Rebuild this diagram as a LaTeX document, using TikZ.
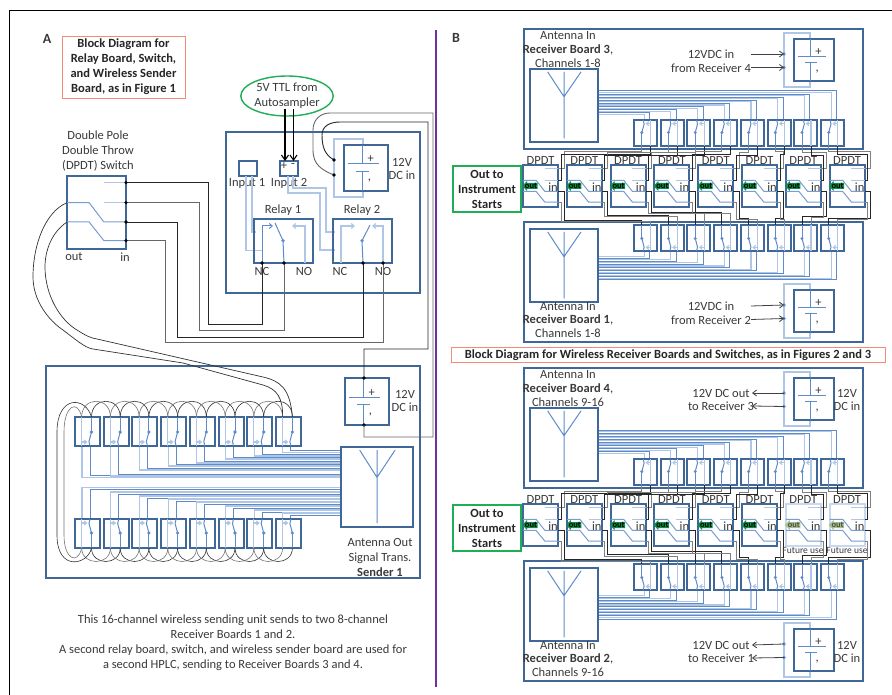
\documentclass[tikz,border=0pt]{standalone}
\usepackage{fontspec}
\setmainfont{Carlito}
\usetikzlibrary{arrows.meta,shapes.geometric}
\definecolor{bd}{HTML}{3F6797}
\definecolor{wl}{HTML}{AFC6E6}
\definecolor{wm}{HTML}{5F8CC8}
\definecolor{tx}{HTML}{3A3A3A}
\definecolor{grn}{HTML}{1FAE55}
\definecolor{redb}{HTML}{F48A78}
\definecolor{purp}{HTML}{7030A0}
\definecolor{outg}{HTML}{0E8F45}
\definecolor{paleg}{HTML}{A9BF8C}
\definecolor{paleb}{HTML}{C9D8EE}
\tikzset{
  bdbox/.style={draw=bd,line width=2pt,fill=white,inner sep=0pt,outer sep=0pt},
  palebox/.style={draw=paleb,line width=2pt,fill=white,inner sep=0pt,outer sep=0pt},
  lab/.style={font=\fontsize{12.5}{15}\selectfont,text=tx,inner sep=0pt,align=center},
  caplab/.style={lab,font=\fontsize{12.5}{13.6}\selectfont},
  boldlab/.style={lab,font=\fontsize{12.5}{15}\selectfont\bfseries,text=black!85},
  tiny/.style={lab,font=\fontsize{9.5}{10}\selectfont},
  wirel/.style={draw=wl,line width=1.1pt},
  wirem/.style={draw=wm,line width=1pt},
  wirex/.style={draw=wm!70!wl,line width=1pt},
  wireb/.style={draw=black!85,line width=.9pt},
  wireg/.style={draw=black!50,line width=1pt},
  loopb/.style={draw=black!80,line width=.6pt},
  loopg/.style={draw=black!55,line width=.6pt},
  dotk/.style={fill=black},
  dotb/.style={fill=wm},
  thin arrow/.style={draw=black!75,line width=.8pt,-{Straight Barb[length=4pt,width=6pt]}},
}
% switch box with pole, contact and arrow; drawn in a 25x29 cell
\newcommand{\swb}[7]{%
  \node[bdbox,minimum width=#4pt,minimum height=#5pt] (#1) at (#2,#3) {};
  \begin{scope}[shift={(#2,#3)},xscale=#6*#4/25,yscale=#7*#5/29]
    \draw[wirel] (-5.8,-14.5)--(-5.8,14.5);
    \draw[wirel,-{Straight Barb[length=2.5pt,width=4pt]}] (-5.8,10.5)--(0,10.5);
    \draw[wirem] (4,0.5)--(4,-14.5);
    \draw[wirem] (4,0.5)--(1.5,10)--(2.5,14.5);
    \fill[dotb] (4,0.5) circle (1.8);
    \coordinate (#1-p) at (4,-14.5);
    \coordinate (#1-q) at (-5.8,-14.5);
  \end{scope}}
% battery: name, centre x, centre y, w, h
\newcommand{\battery}[5]{%
  \node[bdbox,minimum width=#4pt,minimum height=#5pt] (#1) at (#2,#3) {};
  \begin{scope}[shift={(#1.north west)},x=#4pt,y=-#5pt]
    \draw[wirem] (.42,0)--(.42,.41) (.1,.41)--(.79,.41) (.27,.57)--(.57,.57) (.42,.57)--(.42,1);
    \node[lab] (#1-plus) at (.61,.31) {+};
    \node[lab] (#1-minus) at (.58,.77) {,};
  \end{scope}}
% antenna: name, centre x, centre y, w, h
\newcommand{\antenna}[5]{%
  \node[bdbox,minimum width=#4pt,minimum height=#5pt] (#1) at (#2,#3) {};
  \begin{scope}[shift={(#1.north west)},x=#4pt,y=-#5pt]
    \draw[wirem] (.26,.04)--(.5,.38)--(.75,.04) (.5,.04)--(.5,.95);
  \end{scope}}
% DPDT: name, left x, top y, w, h, box style
\newcommand{\dpdt}[6]{%
  \node[#6,minimum width=#4pt,minimum height=#5pt,anchor=north west] (#1) at (#2,#3) {};
  \begin{scope}[shift={(#2,#3)},x=#4pt,y=-#5pt]
    \draw[wirel,line width=1pt] (.62,.09)--(1,.09) (.62,.365)--(1,.365);
    \draw[wirex] (0,.365)--(.375,.365)--(.625,.63)--(1,.63);
    \draw[wirex] (0,.63)--(.375,.63)--(.625,.885)--(1,.885);
    \coordinate (#1-a) at (1,.09);
    \coordinate (#1-b) at (1,.365);
    \coordinate (#1-c) at (1,.63);
    \coordinate (#1-d) at (1,.885);
    \coordinate (#1-e) at (0,.365);
    \coordinate (#1-f) at (0,.63);
  \end{scope}}
% receiver board: prefix, base y, sign
\newcommand{\rboard}[3]{%
  \pgfmathsetmacro{\ay}{#2+#3*105.5}%
  \pgfmathsetmacro{\by}{#2+#3*60}%
  \begin{scope}[shift={(0,#2)},yscale=#3]
    \node[bdbox,minimum width=339pt,minimum height=120pt] (#1b) at (693.5,89) {};
    \foreach \i in {0,...,7}{
      \pgfmathsetmacro{\xx}{634+26.7*\i}
      \pgfmathsetmacro{\ya}{91+3.12*(7-\i)}
      \pgfmathsetmacro{\yb}{\ya+1.56}
      \draw[wirem] (\xx+15.7,120)--(\xx+15.7,\ya)--(598,\ya);
      \draw[wirel] (\xx+10.2,120)--(\xx+10.2,\yb)--(598,\yb);
      \swb{#1s\i}{\xx+11.5}{133}{23}{26}{-1}{-1}
    }
  \end{scope}
  \antenna{#1a}{564}{\ay}{68}{73}
  \pgfmathsetmacro{\rtop}{\by-27}%
  \pgfmathsetmacro{\rbot}{\by+27}%
  \draw[wirel] (784,\rtop) rectangle (810,\rbot);
  \battery{#1p}{814}{\by}{40}{42}
  \pgfmathsetmacro{\dya}{\by-6}%
  \pgfmathsetmacro{\dyb}{\by+7.5}%
  \coordinate (#1pa) at (784,\dya);
  \coordinate (#1pb) at (784,\dyb);
  \fill[dotb] (#1pa) circle (1.8) (#1pb) circle (1.8);
}
% row of 8 DPDT switches and wiring: top-board prefix, bottom-board prefix, row prefix, dy, pale from index
\newcommand{\dpdtrow}[5]{%
  \foreach \i/\hup/\hdn in {0/152/220,1/153/215,2/153/212,3/152/212,4/153/218,5/152/218,6/153/216,7/152/218}{
    \pgfmathsetmacro{\xx}{523+43.8*\i}
    \pgfmathsetmacro{\yy}{165+#4}
    \pgfmathsetmacro{\ty}{160+#4}
    \pgfmathsetmacro{\oy}{186+#4}
    \pgfmathsetmacro{\iny}{187+#4}
    \pgfmathsetmacro{\hta}{\hup+#4}
    \pgfmathsetmacro{\htb}{\hup+2+#4}
    \pgfmathsetmacro{\hba}{\hdn+#4}
    \pgfmathsetmacro{\hbb}{\hdn+2+#4}
    \pgfmathsetmacro{\xt}{\xx+17.5}
    \pgfmathsetmacro{\xo}{\xx+8}
    \pgfmathsetmacro{\xin}{\xx+30}
    \pgfmathtruncatemacro{\ispale}{\i>=#5}
    \ifnum\ispale=1
      \def\bxs{palebox}\def\arrc{paleg}\def\outc{black!70}
    \else
      \def\bxs{bdbox}\def\arrc{outg}\def\outc{black}
    \fi
    \dpdt{#3d\i}{\xx}{\yy}{35}{42}{\bxs}
    \node[lab] (#3t\i) at (\xt,\ty) {DPDT};
    \node[lab] (#3in\i) at (\xin,\iny) {in};
    \fill[\arrc] (\xx-1,\oy) -- ++(5,-5) -- ++(0,2) -- ++(10.5,0) -- ++(0,6) -- ++(-10.5,0) -- ++(0,2) -- cycle;
    \node[lab,font=\fontsize{8.5}{9}\selectfont\bfseries,text=\outc] (#3o\i) at (\xo,\oy) {out};
    \draw[wireg] (#3d\i-a) -- ++(6,0) |- (#1s\i-p |- 0,\hta) -- (#1s\i-p);
    \draw[wireb] (#3d\i-b) -- ++(3,0) |- (#1s\i-q |- 0,\htb) -- (#1s\i-q);
    \draw[wireb] (#3d\i-c) -- ++(6,0) |- (#2s\i-p |- 0,\hba) -- (#2s\i-p);
    \draw[wireg] (#3d\i-d) -- ++(3,0) |- (#2s\i-q |- 0,\hbb) -- (#2s\i-q);
  }}
\begin{document}
\begin{tikzpicture}[x=1pt,y=-1pt]
\useasboundingbox (0,0) rectangle (892,695);
\fill[white] (0,0) rectangle (892,695);
% outer frame and divider
\coordinate (fa) at (9,695); \coordinate (fb) at (9,10); \coordinate (fc) at (892,10);
\draw[black,line width=.9pt] (fa)--(fb)--(fc);
\coordinate (da) at (436,30); \coordinate (db) at (436,687);
\draw[purp,line width=1.4pt] (da)--(db);
\node[lab,font=\fontsize{14}{15}\selectfont\bfseries] (lA) at (47,39) {A};
\node[lab,font=\fontsize{14}{15}\selectfont\bfseries] (lB) at (456,38) {B};
\node[boldlab,draw=redb,line width=.9pt,minimum width=123pt,minimum height=62pt] (ttlA) at (123.5,67) {Block Diagram for\\Relay Board, Switch,\\and Wireless Sender\\Board, as in Figure 1};

% ---------- Panel A: relay board
\node[bdbox,minimum width=194pt,minimum height=161pt,anchor=north west] (relb) at (226,132) {};
\node[bdbox,minimum width=18pt,minimum height=15pt,anchor=north west] (in1) at (239,161) {};
\node[bdbox,minimum width=18pt,minimum height=15pt,anchor=north west] (in2) at (280,161) {};
\node[lab] (in2p) at (284,166) {+};
\node[lab] (in2m) at (293,165.5) {-};
\node[lab] (in1l) at (247,183) {Input 1};
\node[lab] (in2l) at (289,183) {Input 2};
% wires behind relays
\draw[wirel] (246,176)--(246,250.7)--(262,250.7);
\draw[wirel] (252,176)--(252,232)--(256,232);
\draw[wirel] (288,176)--(288,193)--(320,193)--(320,250)--(335,250);
\draw[wirel] (293,176)--(293,188)--(326,188)--(326,232)--(335,232);
\node[bdbox,fill=none,minimum width=59pt,minimum height=44pt,anchor=north west] (rel1) at (254,219) {};
\node[bdbox,fill=none,minimum width=59pt,minimum height=44pt,anchor=north west] (rel2) at (333,219) {};
\node[lab] (rl1) at (283,210) {Relay 1};
\node[lab] (rl2) at (362,210) {Relay 2};
\coordinate (r1nc) at (262,263); \coordinate (r1c) at (284,263); \coordinate (r1no) at (305,263);
\coordinate (r2nc) at (341,263); \coordinate (r2c) at (363,263); \coordinate (r2no) at (383,263);
\draw[wirem,-{Straight Barb[length=3pt,width=5pt]}] (r1nc)--(262,226)--(273,226);
\draw[wirel,-{Straight Barb[length=3pt,width=5pt]}] (r1no)--(305,226)--(292,226);
\draw[wirem] (r1c)--(283,240.7)--(275,223);
\fill[dotb] (283,240.7) circle (1.8);
\draw[wirel,-{Straight Barb[length=3pt,width=5pt]}] (r2nc)--(341,226)--(355,226);
\draw[wirel,-{Straight Barb[length=3pt,width=5pt]}] (r2no)--(383,226)--(372,226);
\draw[wirem] (r2c)--(362,240.7)--(370,225);
\fill[dotb] (362,240.7) circle (1.8);
\node[lab,fill=none] (ncA) at (262,271.5) {NC};
\node[lab] (noA) at (304,271.5) {NO};
\node[lab] (ncB) at (340,271.5) {NC};
\node[lab] (noB) at (383,271.5) {NO};
% relay-board power
\draw[wirel] (334,139) rectangle (363,197);
\battery{batr}{366}{168}{44}{46}
\node[caplab] (batrl) at (402,169) {12V\\DC in};
\coordinate (pa) at (334,160); \coordinate (pb) at (334,175);
% 5V TTL
\node[lab,draw=grn,line width=1.4pt,ellipse,minimum width=88pt,minimum height=40pt] (ttl) at (287,96) {5V TTL from\\Autosampler};
\coordinate (ta) at (285,109); \coordinate (tb) at (293.5,109);
\coordinate (tc) at (285,161); \coordinate (td) at (293.5,161);
\draw[black,line width=1.1pt,-{Straight Barb[length=5pt,width=7pt]}] (ta)--(tc);
\draw[black,line width=1.1pt,-{Straight Barb[length=5pt,width=7pt]}] (tb)--(td);

% ---------- Panel A: DPDT switch
\dpdt{dsw}{67}{176}{59}{73}{bdbox}
\node[lab] (dswt) at (98,151.5) {Double Pole\\Double Throw\\(DPDT) Switch};
\node[lab] (dswo) at (74,257) {out};
\node[lab] (dswi) at (125,257) {in};

% ---------- Panel A: sender board
\node[bdbox,minimum width=374pt,minimum height=212pt,anchor=north west] (snd) at (46,366) {};
\foreach \i/\ya/\yb in {0/475.5/489.5,1/474/494,2/468/498,3/464/501,4/461/504,5/457/508,6/454/512,7/450.5/515}{
  \pgfmathsetmacro{\xx}{87.5+28.7*\i}
  \pgfmathsetmacro{\xl}{\xx-5.5}
  \pgfmathsetmacro{\xr}{\xx+2.5}
  \pgfmathsetmacro{\yc}{\ya+2}
  \pgfmathsetmacro{\yd}{\yb-2}
  \draw[wirem] (\xr,446)--(\xr,\ya)--(341,\ya);
  \draw[wirel] (\xl,446)--(\xl,\yc)--(341,\yc);
  \draw[wirem] (\xr,519)--(\xr,\yb)--(341,\yb);
  \draw[wirel] (\xl,519)--(\xl,\yd)--(341,\yd);
  \swb{sa\i}{\xx}{431.5}{25}{29}{1}{1}
  \swb{sc\i}{\xx}{533.5}{25}{29}{1}{-1}
}
\foreach \i in {0,...,6}{
  \pgfmathtruncatemacro{\j}{\i+1}
  \draw[loopb] (sa\i-p) .. controls +(0,-21) and +(0,-21) .. (sa\j-p);
  \draw[loopg] (sa\i-q) .. controls +(0,-21) and +(0,-21) .. (sa\j-q);
  \draw[loopb] (sc\i-p) .. controls +(0,18) and +(0,18) .. (sc\j-p);
  \draw[loopg] (sc\i-q) .. controls +(0,18) and +(0,18) .. (sc\j-q);
}
\draw[loopb] (sa0-p) .. controls +(-6,-21) and (57,395) .. (57,432) -- (57,535) .. controls (57,572) and (88,565) .. (sc0-p);
\draw[loopg] (sa0-q) .. controls +(-4,-18) and (64,405) .. (64,432) -- (64,535) .. controls (64,560) and (78,565) .. (sc0-q);
\antenna{sant}{377}{487}{72}{80}
\node[lab] (santl) at (380,557) {Antenna Out\\Signal Trans.\\\textbf{Sender 1}};
\battery{bats}{367}{401.5}{44}{47}
\node[caplab] (batsl) at (405,401) {12V\\DC in};
\coordinate (sbt) at (364,378); \coordinate (sbb) at (364,425);
\fill[dotk] (sbt) circle (1.8) (sbb) circle (1.8);

% ---------- Panel A: wires
\draw[wireb] (dsw-a) -| (208,324) -| (r1nc);
\draw[wireb,draw=black!60] (dsw-b) -| (199,330) -| (r1c);
\draw[wireb] (dsw-c) -| (177,337) -| (r2c);
\draw[wireb,draw=black!60] (dsw-d) -| (165,342.7) -| (r2no);
\draw[wireb] (pa) .. controls (325,155) and (322,147) .. (322,135) .. controls (322,126) and (330,122) .. (340,122) -- (428,122) -- (428,349) -- (364,349) -- (sbt);
\draw[wireb,draw=black!60] (pb) .. controls (322,170) and (313,165) .. (313,150) -- (313,130) .. controls (313,120) and (320,113) .. (330,113) -- (433,113) -- (433,437) -- (364,437) -- (sbb);
\draw[loopb,line width=.7pt] (dsw-e) .. controls (45,212) and (33,245) .. (33,277) .. controls (33,300) and (48,320) .. (63,330) .. controls (75,339) and (85,348) .. (93,349) -- (183,363) -- (263,385) .. controls (277,389) and (283,398) .. (sa7-q);
\draw[loopb,line width=.7pt] (dsw-f) .. controls (52,232) and (45,250) .. (45,267) .. controls (45,295) and (60,320) .. (77,330) .. controls (85,335) and (90,338) .. (97,339) -- (263,377) .. controls (280,381) and (290,388) .. (sa7-p);
\foreach \c in {dsw-a,dsw-b,dsw-c,dsw-d,r1nc,r1c,r2c,r2no,pa,pb}{\fill[dotk] (\c) circle (1.8);}
\node[lab] (capA) at (233,642.5) {This 16-channel wireless sending unit sends to two 8-channel\\Receiver Boards 1 and 2.\\A second relay board, switch, and wireless sender board are used for\\a second HPLC, sending to Receiver Boards 3 and 4.};

% ---------- Panel B
\rboard{tt}{0}{1}
\rboard{tb}{371}{-1}
\rboard{bt}{339}{1}
\rboard{bb}{710}{-1}
\dpdtrow{tt}{tb}{ur}{0}{9}
\dpdtrow{bt}{bb}{lr}{339}{6}
\node[boldlab,draw=grn,line width=1.5pt,fill=white,minimum width=68pt,minimum height=46pt] (oa) at (487,189) {Out to\\Instrument\\Starts};
\node[boldlab,draw=grn,line width=1.5pt,fill=white,minimum width=68pt,minimum height=46pt] (ob) at (487,528) {Out to\\Instrument\\Starts};
\node[boldlab,draw=redb,line width=.9pt,fill=white,minimum width=434pt,minimum height=15pt] (ttlB) at (668,355) {Block Diagram for Wireless Receiver Boards and Switches, as in Figures 2 and 3};
% board captions
\node[caplab] (c3) at (568,49.5) {Antenna In\\\textbf{Receiver Board 3},\\Channels 1-8};
\node[caplab] (c1) at (568,320) {Antenna In\\\textbf{Receiver Board 1},\\Channels 1-8};
\node[caplab] (c4) at (568,388.5) {Antenna In\\\textbf{Receiver Board 4},\\Channels 9-16};
\node[caplab] (c2) at (568,659) {Antenna In\\\textbf{Receiver Board 2},\\Channels 9-16};
% power labels
\node[caplab] (p3) at (711,61) {12VDC in\\from Receiver 4};
\node[caplab] (p1) at (711,313) {12VDC in\\from Receiver 2};
\node[caplab] (p4) at (721,400) {12V DC out\\to Receiver 3};
\node[caplab] (p2) at (721,652) {12V DC out\\to Receiver 1};
\node[caplab] (d4) at (847,400) {12V\\DC in};
\node[caplab] (d2) at (847,652) {12V\\DC in};
\coordinate (a3a) at (751,54); \coordinate (a3b) at (751,67.5);
\coordinate (a1a) at (751,306); \coordinate (a1b) at (751,319.5);
\coordinate (a4a) at (752,393); \coordinate (a4b) at (752,406);
\coordinate (a2a) at (752,645); \coordinate (a2b) at (752,658);
\draw[thin arrow] (a3a)--(ttpa);
\draw[thin arrow] (a3b)--(ttpb);
\draw[thin arrow] (a1a)--(tbpa);
\draw[thin arrow] (a1b)--(tbpb);
\draw[thin arrow] (btpa)--(a4a);
\draw[thin arrow] (btpb)--(a4b);
\draw[thin arrow] (bbpa)--(a2a);
\draw[thin arrow] (bbpb)--(a2b);
\node[tiny] (fu1) at (803,550) {Future use};
\node[tiny] (fu2) at (847,550) {Future use};
\end{tikzpicture}
\end{document}
